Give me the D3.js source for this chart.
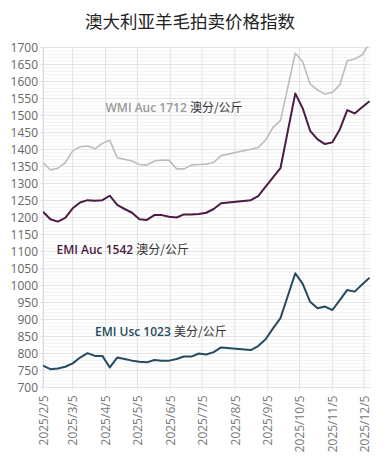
<!DOCTYPE html>
<html>
<head>
<meta charset="utf-8">
<script src="https://cdn.jsdelivr.net/npm/d3@7"></script>
<style>
  html, body { margin: 0; padding: 0; background: #fff; }
  svg { display: block; font-family: "Noto Sans", "Noto Sans CJK SC", sans-serif; }
</style>
</head>
<body>
<svg id="chart" width="391" height="471"></svg>
<script>
// ---- data ----
const title = "澳大利亚羊毛拍卖价格指数";
const dates = [
  "2025-02-05","2025-02-12","2025-02-19","2025-02-26","2025-03-05","2025-03-12","2025-03-19","2025-03-26",
  "2025-04-02","2025-04-09","2025-04-16","2025-04-23","2025-04-30","2025-05-07","2025-05-14","2025-05-21",
  "2025-05-28","2025-06-04","2025-06-11","2025-06-18","2025-06-25","2025-07-02","2025-07-09","2025-07-16",
  "2025-07-23","2025-08-20","2025-08-27","2025-09-03","2025-09-10","2025-09-17","2025-10-01","2025-10-08",
  "2025-10-15","2025-10-22","2025-10-29","2025-11-05","2025-11-12","2025-11-19","2025-11-26","2025-12-03","2025-12-10"
];
const wmiAuc = [1361,1340,1345,1361,1396,1408,1410,1402,1418,1427,1376,1371,1366,1356,1354,1366,1369,1368,1343,1343,1354,1356,1357,1362,1382,
  1401,1406,1428,1465,1485,1683,1658,1592,1575,1563,1568,1590,1661,1666,1678,1712];
const emiAuc = [1217,1195,1188,1199,1227,1244,1251,1249,1251,1264,1237,1225,1214,1195,1193,1207,1207,1202,1200,1209,1209,1210,1214,1225,1242,
  1251,1263,1291,1318,1345,1565,1521,1455,1430,1416,1421,1459,1516,1506,1524,1542];
const emiUsc = [764,754,756,761,771,788,801,793,793,759,788,784,779,776,774,781,779,779,784,791,791,800,797,804,818,
  810,822,842,874,904,1036,1005,952,933,938,928,957,987,982,1003,1023];
const seriesNames = ["WMI Auc 1712", "EMI Auc 1542", "EMI Usc 1023"];
const unitLabels = ["澳分/公斤", "澳分/公斤", "美分/公斤"];
const xTickLabels = ["2025/2/5","2025/3/5","2025/4/5","2025/5/5","2025/6/5","2025/7/5","2025/8/5","2025/9/5","2025/10/5","2025/11/5","2025/12/5"];
const yTicks = [700,750,800,850,900,950,1000,1050,1100,1150,1200,1250,1300,1350,1400,1450,1500,1550,1600,1650,1700];

// ---- layout ----
const svg = d3.select("#chart");
const pL = 43, pR = 369.5, pT = 47.5, pB = 387.5;
const parse = d3.timeParse("%Y-%m-%d");
const parseTick = d3.timeParse("%Y/%m/%d");
const xDates = dates.map(parse);
const tickDates = xTickLabels.map(parseTick);

const x = d3.scaleTime().domain([parse("2025-02-05"), parse("2025-12-10")]).range([pL, pR]);
const y = d3.scaleLinear().domain([700, 1700]).range([pB, pT]);

// title
svg.append("text").attr("x", 190).attr("y", 28).attr("text-anchor", "middle")
  .attr("font-family", "'Noto Sans CJK SC', sans-serif").attr("font-size", 17.5).attr("fill", "#222")
  .text(title);

// minor horizontal grid
svg.append("g").selectAll("line").data(d3.range(700, 1701, 10)).join("line")
  .attr("x1", pL).attr("x2", pR + 1).attr("y1", d => y(d)).attr("y2", d => y(d))
  .attr("stroke", "#f2f2f2").attr("stroke-width", 1);

// major horizontal grid
svg.append("g").selectAll("line").data(yTicks).join("line")
  .attr("x1", pL - 3).attr("x2", pR + 1).attr("y1", d => y(d)).attr("y2", d => y(d))
  .attr("stroke", "#e3e3e3").attr("stroke-width", 1);

// vertical grid
svg.append("g").selectAll("line").data(tickDates).join("line")
  .attr("x1", d => x(d)).attr("x2", d => x(d)).attr("y1", pT).attr("y2", pB + 3)
  .attr("stroke", "#e3e3e3").attr("stroke-width", 1);

// y axis
const yAxis = d3.axisLeft(y).tickValues(yTicks).tickSize(0).tickPadding(5).tickFormat(d3.format("d"));
const gy = svg.append("g").attr("transform", `translate(${pL},0)`).call(yAxis);
gy.select(".domain").attr("stroke", "#dcdcdc");
gy.selectAll("text").attr("font-size", 12).attr("fill", "#666")
  .attr("font-family", "'Open Sans', 'Noto Sans', sans-serif");

// x axis
const xAxis = d3.axisBottom(x).tickValues(tickDates).tickSize(0).tickFormat((d, i) => xTickLabels[i]);
const gx = svg.append("g").attr("transform", `translate(0,${pB})`).call(xAxis);
gx.select(".domain").remove();
gx.selectAll("text")
  .attr("font-size", 12).attr("fill", "#777")
  .attr("font-family", "'Open Sans', 'Noto Sans', sans-serif")
  .attr("text-anchor", "end")
  .attr("transform", "rotate(-90)")
  .attr("x", -8).attr("y", 0).attr("dy", "0.35em").attr("dx", 0);

// clip
svg.append("clipPath").attr("id", "plotclip").append("rect")
  .attr("x", pL).attr("y", pT - 1).attr("width", pR - pL + 4).attr("height", pB - pT + 2);

const line = d3.line().x((d, i) => x(xDates[i])).y(d => y(d)).curve(d3.curveLinear);
const plot = svg.append("g").attr("clip-path", "url(#plotclip)");
const colors = ["#bdbdbd", "#4b1c43", "#264a60"];
[wmiAuc, emiAuc, emiUsc].forEach((vals, k) => {
  plot.append("path").datum(vals).attr("d", line)
    .attr("fill", "none").attr("stroke", colors[k])
    .attr("stroke-width", k === 0 ? 1.6 : 2).attr("stroke-linejoin", "round");
});

// series labels
const labelPos = [[105.5, 112], [56.5, 254], [95, 336]];
const labelColors = ["#9a9a9a", "#4b1c43", "#264a60"];
seriesNames.forEach((name, k) => {
  const t = svg.append("text").attr("x", labelPos[k][0]).attr("y", labelPos[k][1])
    .attr("font-size", 12);
  t.append("tspan").attr("font-weight", 600).attr("fill", labelColors[k])
    .attr("font-family", "'Open Sans', 'Noto Sans', sans-serif").text(name + " ");
  t.append("tspan").attr("fill", "#333")
    .attr("font-family", "'Noto Sans CJK SC', sans-serif").text(unitLabels[k]);
});
</script>
</body>
</html>
